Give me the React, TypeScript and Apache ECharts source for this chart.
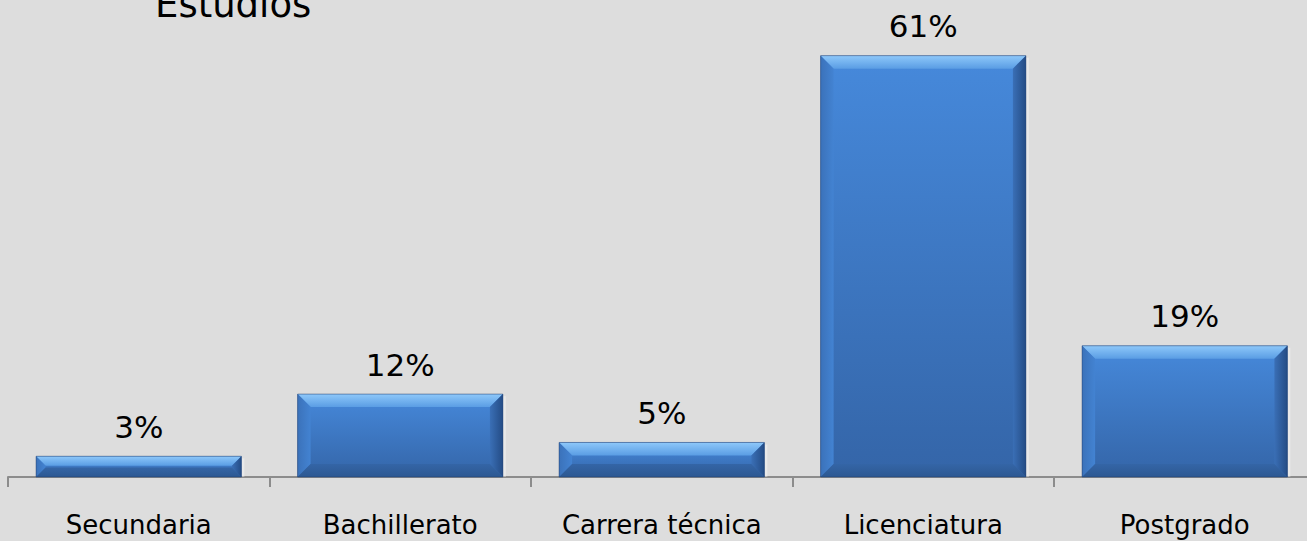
import React, { useEffect, useRef } from "react";
import * as echarts from "echarts";

const categories = ["Secundaria", "Bachillerato", "Carrera técnica", "Licenciatura", "Postgrado"];
const values = [3, 12, 5, 61, 19];
const titleText = "Estudios";

const FONT = "'DejaVu Sans', Verdana, sans-serif";

export default function App() {
  const ref = useRef<HTMLDivElement>(null);
  useEffect(() => {
    if (!ref.current) return;
    const chart = echarts.init(ref.current, null, { renderer: "svg" });
    const BAR_RATIO = 0.785;
    const renderItem = (params: any, api: any) => {
      const idx = api.value(0);
      const v = api.value(1);
      const top = api.coord([idx, v]);
      const base = api.coord([idx, 0]);
      const cw = api.size([1, 0])[0];
      const w = cw * BAR_RATIO;
      const x0 = top[0] - w / 2;
      const x1 = top[0] + w / 2;
      const y0 = top[1];
      const y1 = base[1];
      const h = y1 - y0;
      const b = Math.min(13, h / 2.2, w / 4);
      const face = new echarts.graphic.LinearGradient(0, 0, 0, 1, [
        { offset: 0, color: "#4689db" },
        { offset: 1, color: "#3465a8" },
      ]);
      const topFill = new echarts.graphic.LinearGradient(0, 0, 0, 1, [
        { offset: 0, color: "#8ec8fa" },
        { offset: 1, color: "#5a9de4" },
      ]);
      const leftFill = new echarts.graphic.LinearGradient(0, 0, 1, 0, [
        { offset: 0, color: "#3b72ba" },
        { offset: 1, color: "#4383d2" },
      ]);
      const rightFill = new echarts.graphic.LinearGradient(0, 0, 1, 0, [
        { offset: 0, color: "#3a6fb6" },
        { offset: 1, color: "#244c85" },
      ]);
      const bottomFill = new echarts.graphic.LinearGradient(0, 0, 0, 1, [
        { offset: 0, color: "#3465a6" },
        { offset: 1, color: "#2c5892" },
      ]);
      return {
        type: "group",
        children: [
          { type: "rect", shape: { x: x1, y: y0 + 2, width: 3, height: h - 2 }, style: { fill: "rgba(255,255,255,0.35)" } },
          { type: "rect", shape: { x: x0, y: y0, width: w, height: h }, style: { fill: face } },
          { type: "polygon", shape: { points: [[x0, y0], [x1, y0], [x1 - b, y0 + b], [x0 + b, y0 + b]] }, style: { fill: topFill } },
          { type: "polygon", shape: { points: [[x0, y0], [x0 + b, y0 + b], [x0 + b, y1 - b], [x0, y1]] }, style: { fill: leftFill } },
          { type: "polygon", shape: { points: [[x1, y0], [x1, y1], [x1 - b, y1 - b], [x1 - b, y0 + b]] }, style: { fill: rightFill } },
          { type: "polygon", shape: { points: [[x0, y1], [x0 + b, y1 - b], [x1 - b, y1 - b], [x1, y1]] }, style: { fill: bottomFill } },
          { type: "rect", shape: { x: x0, y: y0, width: w, height: h }, style: { fill: "none", stroke: "rgba(30,60,110,0.5)", lineWidth: 1 } },
        ],
      };
    };
    chart.setOption({
      animation: false,
      backgroundColor: "#dddddd",
      graphic: [
        {
          type: "text",
          x: 155,
          y: 23,
          style: { text: titleText, font: `37px ${FONT}`, fill: "#000", verticalAlign: "bottom", align: "left" },
        },
      ],
      grid: { left: 8, top: 28, width: 1307.5, bottom: 64, containLabel: false, outerBoundsMode: "none" },
      xAxis: {
        type: "category",
        data: categories,
        axisLine: { show: true, lineStyle: { color: "#8c8c8c", width: 2 } },
        axisTick: { show: true, length: 10, lineStyle: { color: "#8c8c8c", width: 2 } },
        axisLabel: { color: "#000", fontSize: 26, fontFamily: FONT, margin: 35, interval: 0 },
      },
      yAxis: {
        type: "value",
        min: 0,
        max: 65,
        show: false,
        splitLine: { show: false },
      },
      series: [
        {
          type: "bar",
          data: values,
          barCategoryGap: "21.5%",
          itemStyle: { color: "rgba(0,0,0,0)" },
          label: {
            show: true,
            position: "top",
            distance: 14,
            formatter: "{c}%",
            fontSize: 31,
            fontFamily: FONT,
            color: "#000",
          },
          z: 1,
        },
        {
          type: "custom",
          data: values.map((v, i) => [i, v]),
          renderItem,
          z: 2,
        },
      ],
    });
    return () => chart.dispose();
  }, []);
  return <div ref={ref} style={{ position: "absolute", left: 0, top: 0, width: 1307, height: 541 }} />;
}
